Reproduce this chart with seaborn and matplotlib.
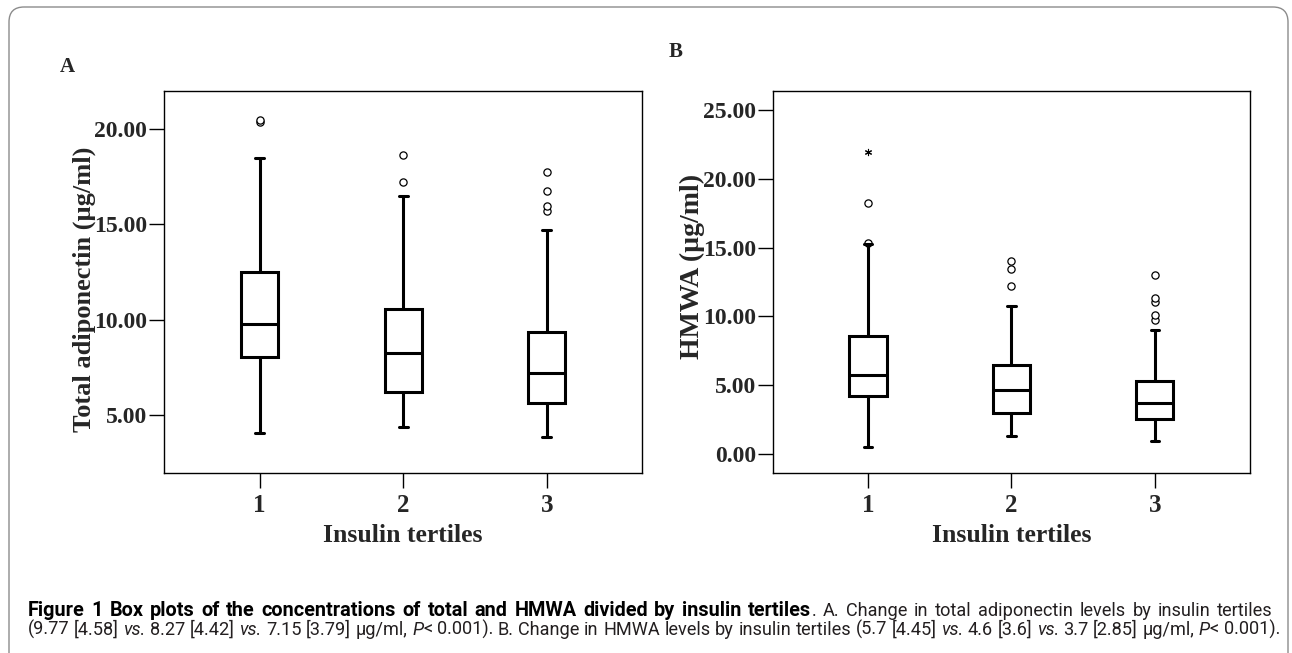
import matplotlib
matplotlib.use('Agg')
import matplotlib.pyplot as plt
from matplotlib.patches import FancyBboxPatch
from matplotlib.font_manager import FontProperties
import pandas as pd
import seaborn as sns

# ------------------------------------------------------------------
# Datos (resumen de cada caja)
# ------------------------------------------------------------------
tertiles = ['1', '2', '3']

# Panel A: adiponectina total (ug/ml)
a_low = [4.04, 4.36, 3.83]
a_q1 = [8.03, 6.19, 5.62]
a_med = [9.77, 8.27, 7.20]
a_q3 = [12.52, 10.56, 9.34]
a_high = [18.46, 16.50, 14.69]
a_out = [[20.35, 20.50], [17.22, 18.64], [15.70, 15.96, 16.75, 17.73]]
a_ext = [[], [], []]

# Panel B: HMWA (ug/ml)
b_low = [0.49, 1.31, 0.92]
b_q1 = [4.21, 3.00, 2.52]
b_med = [5.74, 4.63, 3.73]
b_q3 = [8.60, 6.49, 5.28]
b_high = [15.26, 10.78, 9.01]
b_out = [[15.36, 18.22], [12.23, 13.44, 14.05], [9.74, 10.10, 11.07, 11.31, 13.01]]
b_ext = [[21.97], [], []]

a_yticks = [5, 10, 15, 20]
b_yticks = [0, 5, 10, 15, 20, 25]


def box_frame(low, q1, med, q3, high):
    # cinco valores por grupo -> los cuartiles caen justo en q1, med, q3
    rows = []
    for t, vals in zip(tertiles, zip(low, q1, med, q3, high)):
        for v in vals:
            rows.append((t, v))
    return pd.DataFrame(rows, columns=['tertile', 'value'])


def point_frame(groups):
    rows = [(t, v) for t, vals in zip(tertiles, groups) for v in vals]
    return pd.DataFrame(rows, columns=['tertile', 'value'])


sns.set_theme(style='ticks')
plt.rcParams['font.family'] = ['Liberation Serif', 'DejaVu Serif']
plt.rcParams['axes.linewidth'] = 1.0
plt.rcParams['axes.edgecolor'] = 'black'

W, H = 1292, 653
fig = plt.figure(figsize=(W / 100, H / 100), dpi=100)


def px_axes(left, top, right, bottom):
    return fig.add_axes([left / W, 1 - bottom / H, (right - left) / W, (bottom - top) / H])


def draw_panel(ax, box_df, out_df, ext_df, yticks, ylim, ylabel, ylab_size, ylab_xy):
    sns.boxplot(data=box_df, x='tertile', y='value', order=tertiles, whis=(0, 100),
                width=0.26, color='white', linecolor='black', linewidth=2.2,
                showfliers=False, capwidths=0.06, ax=ax)
    sns.stripplot(data=out_df, x='tertile', y='value', order=tertiles, jitter=False,
                  marker='o', size=5.2, color='white', edgecolor='black',
                  linewidth=0.9, zorder=1.5, ax=ax)
    if len(ext_df):
        sns.stripplot(data=ext_df, x='tertile', y='value', order=tertiles, jitter=False,
                      marker=(6, 2, 0), size=4.5, color='black', linewidth=0.8,
                      zorder=1.5, ax=ax)
    ax.set_xlim(-0.667, 2.664)
    ax.set_ylim(*ylim)
    ax.set_yticks(yticks)
    ax.set_yticklabels([f'{v:.2f}' for v in yticks])
    for s in ax.spines.values():
        s.set_visible(True)
        s.set_linewidth(1.0)
        s.set_color('black')
    ax.tick_params(axis='both', direction='out', length=11, width=1, color='black')
    ax.tick_params(axis='y', pad=1, labelsize=17)
    ax.tick_params(axis='x', pad=4, labelsize=18)
    for lab in ax.get_xticklabels() + ax.get_yticklabels():
        lab.set_fontweight('bold')
    ax.set_xlabel('Insulin tertiles', fontsize=18.5, fontweight='bold', va='top')
    ax.xaxis.set_label_coords(0.5, -0.134)
    ax.set_ylabel(ylabel, fontsize=ylab_size, fontweight='bold')
    ax.yaxis.set_label_coords(*ylab_xy)


ax_a = px_axes(164, 91, 642, 473)
draw_panel(ax_a, box_frame(a_low, a_q1, a_med, a_q3, a_high), point_frame(a_out),
           point_frame(a_ext), a_yticks, (1.95, 22.0),
           'Total adiponectin (µg/ml)', 19, (-0.142, 0.482))

ax_b = px_axes(772.5, 91, 1250, 473)
draw_panel(ax_b, box_frame(b_low, b_q1, b_med, b_q3, b_high), point_frame(b_out),
           point_frame(b_ext), b_yticks, (-1.40, 26.4),
           'HMWA (µg/ml)', 20, (-0.141, 0.541))

# letras de panel
fig.text(60 / W, 1 - 72 / H, 'A', fontsize=15, fontweight='bold', va='baseline')
fig.text(669 / W, 1 - 57 / H, 'B', fontsize=15, fontweight='bold', va='baseline')

# marco redondeado gris de la figura
frame = FancyBboxPatch((0.09, -0.3), 12.79, 6.46 + 0.3,
                       boxstyle='round,pad=0,rounding_size=0.15',
                       transform=fig.dpi_scale_trans, fill=False,
                       edgecolor='#8c8c8c', linewidth=1.0, zorder=0)
fig.patches.append(frame)

# ------------------------------------------------------------------
# Pie de figura (texto con partes en negrita / cursiva)
# ------------------------------------------------------------------
cap_family = ['Roboto', 'DejaVu Sans']
cap_dark = '#231f20'
line1 = [('Figure 1 Box plots of the concentrations of total and HMWA divided by insulin tertiles', 'bold', 'normal'),
         ('. A. Change in total adiponectin levels by insulin tertiles', 'normal', 'normal')]
line2 = [('(9.77 [4.58] ', 'normal', 'normal'), ('vs.', 'normal', 'italic'),
         (' 8.27 [4.42] ', 'normal', 'normal'), ('vs.', 'normal', 'italic'),
         (' 7.15 [3.79] µg/ml, ', 'normal', 'normal'), ('P', 'normal', 'italic'),
         ('< 0.001). B. Change in HMWA levels by insulin tertiles (5.7 [4.45] ', 'normal', 'normal'),
         ('vs.', 'normal', 'italic'), (' 4.6 [3.6] ', 'normal', 'normal'),
         ('vs.', 'normal', 'italic'), (' 3.7 [2.85] µg/ml, ', 'normal', 'normal'),
         ('P', 'normal', 'italic'), ('< 0.001).', 'normal', 'normal')]

renderer = fig.canvas.get_renderer()


def run_width(text, weight, style, size):
    prop = FontProperties(family=cap_family, weight=weight, style=style, size=size)
    w1 = renderer.get_text_width_height_descent('|' + text + '|', prop, ismath=False)[0]
    w0 = renderer.get_text_width_height_descent('||', prop, ismath=False)[0]
    return w1 - w0


def tokens(runs):
    # palabras con su estilo; gap=True si va precedida de un espacio
    out = []
    pending = False
    for text, weight, style in runs:
        for i, p in enumerate(text.split(' ')):
            if i > 0:
                pending = True
            if p == '':
                continue
            out.append([p, weight, style, pending and len(out) > 0])
            pending = False
    return out


def words_width(toks, sizes):
    return sum(run_width(p, w, s, sizes[w]) for p, w, s, g in toks)


tok1, tok2 = tokens(line1), tokens(line2)
ref = 10.0
space_ref = run_width(' ', 'normal', 'normal', ref)
nat2 = words_width(tok2, {'normal': ref}) + sum(t[3] for t in tok2) * space_ref
reg_size = ref * (1278 - 28) / nat2

# en la primera linea la parte en negrita ocupa hasta x~790
bold_toks = [t for t in tok1 if t[1] == 'bold']
bold_nat = words_width(bold_toks, {'bold': ref}) + sum(t[3] for t in bold_toks) * space_ref
bold_size = min(ref * (790 - 28) / bold_nat, reg_size * 1.12)
sizes = {'normal': reg_size, 'bold': bold_size}


def draw_tokens(toks, x0, x1, baseline, justify):
    gap_w = run_width(' ', 'normal', 'normal', reg_size)
    n_gaps = sum(1 for t in toks if t[3])
    if justify:
        gap_w = (x1 - x0 - words_width(toks, sizes)) / n_gaps
    x = x0
    for p, weight, style, gap in toks:
        if gap:
            x += gap_w
        fig.text(x / W, 1 - baseline / H, p, fontsize=sizes[weight], family=cap_family,
                 fontweight=weight, fontstyle=style, va='baseline', ha='left',
                 color='black' if weight == 'bold' else cap_dark)
        x += run_width(p, weight, style, sizes[weight])


draw_tokens(tok1, 28, 1273, 616, justify=True)
draw_tokens(tok2, 28, 1278, 635, justify=False)

fig.savefig('out.png', dpi=100)
